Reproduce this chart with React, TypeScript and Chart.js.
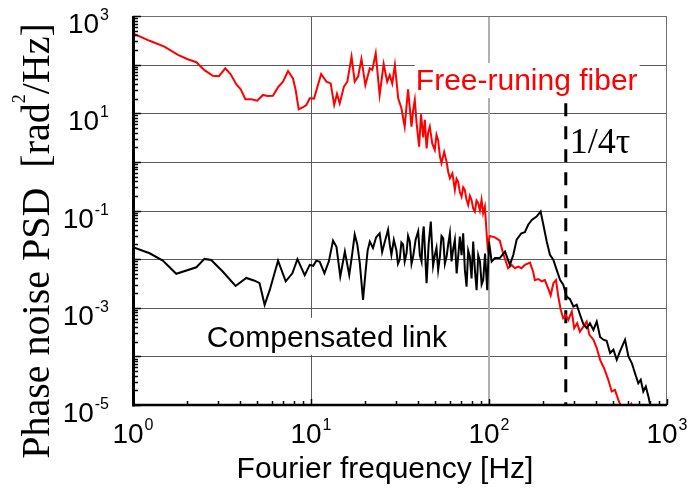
import React, { useEffect, useRef } from "react";
import { Chart, registerables } from "chart.js";

Chart.register(...registerables);

// ---- Data ----
const redFreq = [
  1.0, 1.24, 1.5, 1.79, 2.03, 2.27, 2.52, 2.81, 3.04, 3.3, 3.53, 3.81, 4.03, 4.28, 4.62, 4.99, 5.37, 5.69, 6.11, 6.52,
  6.96, 7.43, 7.92, 8.2, 8.53, 9.02, 9.42, 9.84, 10.4, 11.4, 12.2, 12.9, 13.5, 14.0, 14.5, 15.3, 16.0, 16.9, 17.6, 18.4,
  19.2, 20.2, 21.4, 22.1, 23.1, 24.3, 25.6, 26.8, 27.7, 28.6, 29.6, 30.9, 32.2, 33.6, 35.1, 36.7, 37.5, 38.3, 39.2, 40.5,
  41.5, 42.7, 43.6, 44.6, 45.5, 46.5, 48.0, 49.6, 50.7, 51.8, 53.0, 54.1, 56.0, 57.8, 59.0, 60.3, 62.3, 64.3, 65.7, 67.1,
  68.6, 70.1, 71.6, 73.1, 74.7, 76.4, 78.1, 79.8, 81.5, 83.3, 85.1, 87.0, 88.9, 90.8, 92.7, 94.8, 97.0,
  98.2, 101, 108, 115, 120, 128, 134, 140, 146, 152, 159, 170, 177, 181, 189, 198, 206, 215, 222, 230,
  238, 245, 253, 261, 270, 279, 292, 301, 313, 324, 339, 354, 366, 386, 403, 421, 443, 468, 489, 510,
  533, 557, 600, 630, 650,
];
const redPSD = [
  440, 309, 234, 158, 129, 112, 77, 59, 58, 84, 64, 39, 31, 19.4, 19.4, 18.2, 23.8, 22.7, 23, 34,
  44.7, 74, 52, 30, 12.1, 13.3, 14.8, 20.3, 20, 64, 44.7, 41, 14.8, 25, 16, 35, 44.7, 146, 44.7, 57,
  131, 38, 84, 78, 171, 23.8, 103, 44.7, 61, 41, 98, 20.3, 12.7, 5.3, 31, 5.3, 11.7, 18.8, 6.2, 2.06,
  9.5, 3.2, 7.3, 1.9, 4.0, 5.3, 2.4, 1.76, 3.6, 2.8, 1.3, 0.94, 1.6, 1.0, 0.62, 0.46, 0.58, 0.265, 0.45, 0.39,
  0.24, 0.193, 0.3, 0.265, 0.17, 0.13, 0.2, 0.165, 0.11, 0.095, 0.16, 0.141, 0.1, 0.165, 0.088, 0.12, 0.034,
  0.018, 0.03, 0.028, 0.024, 0.0132, 0.0065, 0.0076, 0.0065, 0.007, 0.0065, 0.0076, 0.0085, 0.0055, 0.0037, 0.0039, 0.0035, 0.0037, 0.0025, 0.0018, 0.0032,
  0.0037, 0.0017, 0.00091, 0.00061, 0.00071, 0.00056, 0.00084, 0.00038, 0.00048, 0.00032, 0.00041, 0.00052, 0.00028, 0.00022, 0.000148, 0.000085, 0.000057, 0.000033, 0.000019, 0.0000205,
  0.0000128, 0.0000085, 0.000008, 0.0000105, 0.000007,
];

const blackFreq = [
  1.0, 1.24, 1.47, 1.75, 2.27, 2.52, 2.75, 3.2, 3.77, 4.33, 4.82, 5.14, 5.49, 5.86, 6.53, 7.21, 7.86, 8.39, 9.22, 9.84,
  10.3, 10.7, 11.2, 11.9, 12.6, 13.3, 13.9, 14.6, 15.5, 16.4, 17.0, 17.6, 18.2, 18.8, 19.6, 20.3, 20.8, 21.4, 22.3, 23.2,
  24.3, 25.1, 26.0, 27.1, 27.7, 28.3, 29.2, 30.2, 30.8, 31.5, 32.2, 32.9, 33.6, 34.4, 35.1, 35.9, 36.7, 37.5, 38.7, 40.0,
  40.9, 41.8, 42.4, 43.0, 43.8, 44.6, 45.8, 47.1, 48.5, 49.6, 50.7, 51.8, 53.0, 54.1, 55.3, 56.5, 57.8, 59.0, 60.3, 61.6,
  62.9, 64.3, 65.8, 67.2, 68.6, 70.1, 71.6, 73.2, 74.8, 76.4, 78.0, 79.8, 81.5, 83.3, 85.2, 87.0, 89, 90.9, 92.8, 95,
  97.7, 100, 103.5, 108, 115, 123, 131, 137, 143, 152, 159, 166, 174, 185,
  195, 202, 211, 220, 230, 240, 251, 261, 273, 285, 298, 311, 325, 339, 354, 369, 386, 403, 421, 439,
  458, 479, 500, 522, 545, 581, 607, 634, 661, 690, 712, 736, 760, 786, 810,
];
const blackPSD = [
  0.0176, 0.0132, 0.0093, 0.005, 0.0068, 0.0101, 0.0096, 0.0055, 0.0028, 0.0041, 0.0036, 0.0032, 0.00115, 0.0023, 0.0093, 0.0035, 0.0051, 0.01, 0.0047, 0.0076,
  0.0073, 0.0093, 0.0088, 0.0051, 0.009, 0.024, 0.018, 0.0044, 0.0143, 0.0047, 0.012, 0.032, 0.02, 0.0083, 0.00145, 0.006, 0.015, 0.023, 0.017, 0.028,
  0.034, 0.014, 0.023, 0.04, 0.02, 0.0122, 0.025, 0.015, 0.008, 0.0098, 0.022, 0.02, 0.009, 0.0132, 0.03, 0.023, 0.008, 0.0114, 0.025, 0.037,
  0.012, 0.0089, 0.03, 0.047, 0.012, 0.0032, 0.02, 0.059, 0.0073, 0.012, 0.017, 0.006, 0.0114, 0.03, 0.027, 0.008, 0.0114, 0.02, 0.034, 0.009,
  0.016, 0.025, 0.0051, 0.012, 0.029, 0.012, 0.034, 0.006, 0.0027, 0.015, 0.0114, 0.004, 0.023, 0.006, 0.0023, 0.012, 0.0089, 0.003, 0.0037, 0.013,
  0.0023, 0.023, 0.0089, 0.0105, 0.0105, 0.0143, 0.0076, 0.0123, 0.025, 0.034, 0.036, 0.051, 0.064, 0.075,
  0.095, 0.051, 0.023, 0.0123, 0.0096, 0.006, 0.0037, 0.003, 0.0017, 0.0015, 0.00106, 0.00115, 0.00071, 0.00046, 0.00038, 0.00048, 0.00035, 0.00052, 0.00025, 0.00022,
  0.00021, 0.000117, 0.000137, 0.000085, 0.000128, 0.00022, 0.0001, 0.000073, 0.000045, 0.000028, 0.000033, 0.000019, 0.000024, 0.0000149, 0.000009,
];

const xTickExps = [0, 1, 2, 3];
const yTickExps = [3, 1, -1, -3, -5];
const cutoffFreq = [270, 270];
const cutoffPSD = [16, 0.00001];

const redLabel = "Free-runing fiber";
const blackLabel = "Compensated link";
const cutoffLabel = "1/4τ";
const xTitle = "Fourier frequency [Hz]";
const yTitleA = "Phase noise PSD  [rad";
const yTitleSup = "2";
const yTitleB = "/Hz]";

const SANS = '"Liberation Sans", Arial, sans-serif';
const SERIF = '"Liberation Serif", "Times New Roman", serif';

function line(ctx: CanvasRenderingContext2D, x1: number, y1: number, x2: number, y2: number) {
  ctx.beginPath();
  ctx.moveTo(x1, y1);
  ctx.lineTo(x2, y2);
  ctx.stroke();
}

function drawPow(ctx: CanvasRenderingContext2D, exp: number, x: number, baseY: number, align: "center" | "right") {
  const base = "10";
  const sup = String(exp);
  ctx.font = `28px ${SANS}`;
  const wb = ctx.measureText(base).width;
  ctx.font = `16px ${SANS}`;
  const ws = ctx.measureText(sup).width;
  const total = wb + ws + 1;
  const start = align === "center" ? x - total / 2 : x - total;
  ctx.textAlign = "left";
  ctx.textBaseline = "alphabetic";
  ctx.fillStyle = "#000";
  ctx.font = `28px ${SANS}`;
  ctx.fillText(base, start, baseY);
  ctx.font = `16px ${SANS}`;
  ctx.fillText(sup, start + wb + 1, baseY - 13);
}

const decorPlugin = {
  id: "decor",
  beforeDatasetsDraw(chart: any) {
    const ctx: CanvasRenderingContext2D = chart.ctx;
    const xs = chart.scales.x;
    const ys = chart.scales.y;
    const { left, right, top, bottom } = chart.chartArea;
    ctx.save();
    // horizontal grid lines at every decade
    ctx.strokeStyle = "#5a5a5a";
    ctx.lineWidth = 1;
    for (let e = -4; e <= 2; e++) {
      const y = Math.round(ys.getPixelForValue(Math.pow(10, e))) + 0.5;
      line(ctx, left, y, right, y);
    }
    // vertical grid lines
    const x10 = Math.round(xs.getPixelForValue(10)) + 0.5;
    line(ctx, x10, top, x10, bottom);
    ctx.strokeStyle = "#b0b0b0";
    ctx.lineWidth = 2;
    const x100 = Math.round(xs.getPixelForValue(100));
    line(ctx, x100, top, x100, bottom);
    // top and right borders
    ctx.strokeStyle = "#707070";
    ctx.lineWidth = 1;
    line(ctx, left, top + 0.5, right, top + 0.5);
    line(ctx, right - 0.5, top, right - 0.5, bottom);

    // annotation: free-running
    ctx.font = `30px ${SANS}`;
    ctx.textBaseline = "alphabetic";
    ctx.textAlign = "left";
    const rx = xs.getPixelForValue(38.8);
    const ry = ys.getPixelForValue(30);
    const rw = ctx.measureText(redLabel).width;
    ctx.fillStyle = "#fff";
    ctx.fillRect(rx - 1, ry - 27, rw + 3, 35);
    ctx.fillStyle = "#ff0000";
    ctx.fillText(redLabel, rx, ry);

    // annotation: compensated
    const bx = xs.getPixelForValue(2.6);
    const by = ys.getPixelForValue(0.000157);
    const bw = ctx.measureText(blackLabel).width;
    ctx.fillStyle = "#fff";
    ctx.fillRect(bx - 4, by - 29, bw + 8, 37);
    ctx.fillStyle = "#000";
    ctx.fillText(blackLabel, bx, by);

    // 1/4 tau
    ctx.font = `36px ${SERIF}`;
    ctx.fillText(cutoffLabel, xs.getPixelForValue(cutoffFreq[0]) + 4, ys.getPixelForValue(1.53));
    ctx.restore();
  },
  afterDatasetsDraw(chart: any) {
    const ctx: CanvasRenderingContext2D = chart.ctx;
    const xs = chart.scales.x;
    const ys = chart.scales.y;
    const { left, right, top, bottom } = chart.chartArea;
    ctx.save();
    ctx.strokeStyle = "#000";
    // left axis
    ctx.lineWidth = 3;
    line(ctx, left + 0.5, top, left + 0.5, bottom + 1.5);
    // bottom axis
    ctx.lineWidth = 2.5;
    line(ctx, left, bottom, right, bottom);
    // y minor/major ticks
    ctx.lineWidth = 1.5;
    for (let e = -5; e <= 3; e++) {
      for (let k = 1; k <= 9; k++) {
        const v = k * Math.pow(10, e);
        if (v > 1000.001) break;
        const y = Math.round(ys.getPixelForValue(v)) + 0.5;
        const len = k === 1 ? 8 : 5;
        line(ctx, left, y, left + len, y);
      }
    }
    // x minor/major ticks
    for (let e = 0; e <= 3; e++) {
      for (let k = 1; k <= 9; k++) {
        const v = k * Math.pow(10, e);
        if (v > 1000.001) break;
        const x = Math.round(xs.getPixelForValue(v)) + 0.5;
        const len = k === 1 ? 6 : 4;
        line(ctx, x, bottom, x, bottom - len);
      }
    }
    // tick labels
    for (const e of xTickExps) {
      drawPow(ctx, e, xs.getPixelForValue(Math.pow(10, e)), bottom + 38, "center");
    }
    for (const e of yTickExps) {
      drawPow(ctx, e, left - 24, ys.getPixelForValue(Math.pow(10, e)) + 17, "right");
    }
    // x title
    ctx.fillStyle = "#000";
    ctx.font = `30px ${SANS}`;
    ctx.textAlign = "center";
    ctx.fillText(xTitle, 385, 478);
    // y title (rotated)
    ctx.translate(49, 241);
    ctx.rotate(-Math.PI / 2);
    ctx.textAlign = "left";
    ctx.font = `40px ${SERIF}`;
    const wa = ctx.measureText(yTitleA).width;
    ctx.font = `18px ${SERIF}`;
    const wsup = ctx.measureText(yTitleSup).width;
    ctx.font = `40px ${SERIF}`;
    const wbb = ctx.measureText(yTitleB).width;
    const tot = wa + wsup + wbb;
    let u = -tot / 2;
    ctx.fillText(yTitleA, u, 0);
    u += wa;
    ctx.font = `18px ${SERIF}`;
    ctx.fillText(yTitleSup, u, -24);
    u += wsup;
    ctx.font = `40px ${SERIF}`;
    ctx.fillText(yTitleB, u, 0);
    ctx.restore();
  },
};

export default function App() {
  const ref = useRef<HTMLCanvasElement>(null);
  useEffect(() => {
    const canvas = ref.current;
    if (!canvas) return;
    const chart = new Chart(canvas, {
      type: "line",
      data: {
        datasets: [
          {
            data: blackFreq.map((f, i) => ({ x: f, y: blackPSD[i] })),
            borderColor: "#000000",
            borderWidth: 2,
            pointRadius: 0,
            tension: 0,
          },
          {
            data: redFreq.map((f, i) => ({ x: f, y: redPSD[i] })),
            borderColor: "#ff0000",
            borderWidth: 2,
            pointRadius: 0,
            tension: 0,
          },
          {
            data: cutoffFreq.map((f, i) => ({ x: f, y: cutoffPSD[i] })),
            borderColor: "#000000",
            borderWidth: 3,
            borderDash: [13, 10],
            pointRadius: 0,
            tension: 0,
          },
        ],
      },
      options: {
        responsive: false,
        animation: false,
        devicePixelRatio: 1,
        layout: { padding: { left: 133, right: 22, top: 16, bottom: 85 } },
        plugins: { legend: { display: false }, tooltip: { enabled: false } },
        scales: {
          x: { type: "logarithmic", min: 1, max: 1000, display: false },
          y: { type: "logarithmic", min: 0.00001, max: 1000, display: false },
        },
      },
      plugins: [decorPlugin],
    });
    return () => chart.destroy();
  }, []);
  return (
    <div style={{ position: "absolute", left: 0, top: 0, width: 689, height: 490, background: "#fff" }}>
      <canvas ref={ref} width={689} height={490} />
    </div>
  );
}
